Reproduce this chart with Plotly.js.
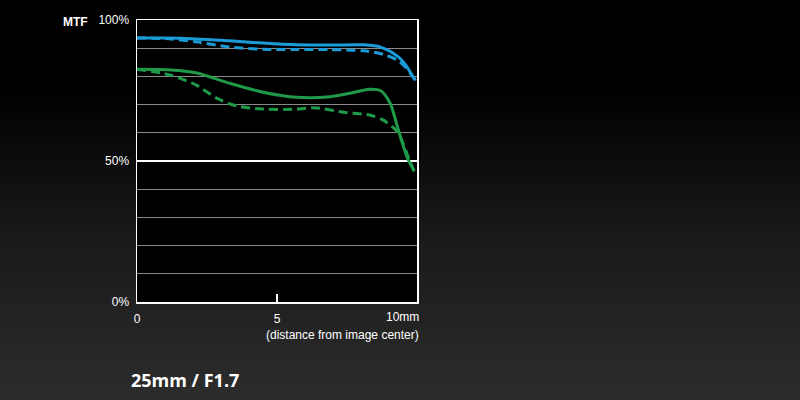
<!DOCTYPE html>
<html><head><meta charset="utf-8">
<script src="https://cdn.plot.ly/plotly-3.0.1.min.js"></script>
<style>
html,body{margin:0;padding:0;width:800px;height:400px;overflow:hidden;
background:linear-gradient(to bottom,#000 0%,#000 22%,#1a1a1a 60%,#2c2c2c 100%);}
#chart{width:800px;height:400px;}
</style></head><body><div id="chart"></div>
<script>
const blueSolidX = [0, 1, 2.1, 3.3, 4.5, 5.7, 6.9, 8.1, 8.7, 9.3, 9.6, 9.86, 9.95];
const blueSolidY = [93.6, 93.6, 93.3, 92.6, 91.8, 91.2, 91.1, 91.2, 90.4, 87.2, 84.0, 79.8, 78.6];
const blueDashX = [0, 1, 2.1, 3.3, 4.5, 5.7, 6.9, 8.1, 8.8, 9.3, 9.6, 9.86, 9.95];
const blueDashY = [93.6, 93.4, 92.3, 90.4, 89.6, 89.5, 89.5, 89.1, 87.8, 85.8, 83.2, 79.8, 78.6];
const greenSolidX = [0, 1.2, 2.1, 3.3, 4.5, 5.7, 6.9, 7.6, 8.3, 8.7, 9.04, 9.3, 9.64, 9.9];
const greenSolidY = [82.5, 82.3, 81.3, 77.6, 74.4, 72.6, 72.8, 74.0, 75.4, 74.9, 70.5, 62.2, 51.5, 46.4];
const greenDashX = [0, 1.18, 2.1, 2.86, 3.57, 4.5, 5.7, 6.3, 7.5, 8.3, 8.8, 9.3, 9.5, 9.7, 9.9];
const greenDashY = [82.5, 80.5, 77.0, 72.2, 69.5, 68.4, 68.4, 68.9, 67.1, 66.3, 64.5, 60.4, 56.3, 51.0, 46.4];
const yTickVals = [0, 50, 100];
const yTickText = ['0%', '50%', '100%'];
const xTickVals = [0, 5, 10];
const xTickText = ['0', '5', ''];

const blue = '#1b9bd7', green = '#1f9a48';
const mk = (x, y, c, dash) => ({x, y, type:'scatter', mode:'lines',
  line:{color:c, width:3, shape:'spline', smoothing:0.8, dash: dash ? '9px,5px' : 'solid'},
  hoverinfo:'skip', showlegend:false});
const data = [
  mk(greenDashX, greenDashY, green, true),
  mk(greenSolidX, greenSolidY, green, false),
  mk(blueDashX, blueDashY, blue, true),
  mk(blueSolidX, blueSolidY, blue, false)
];
const font = {family:'"Liberation Sans", Arial, sans-serif', color:'#ffffff', size:12};
const layout = {
  width:800, height:400,
  margin:{l:137, r:383, t:20, b:98},
  paper_bgcolor:'rgba(0,0,0,0)', plot_bgcolor:'#000000',
  font:font,
  xaxis:{range:[0,10], tickvals:xTickVals, ticktext:xTickText, showgrid:false, zeroline:false,
    showline:true, mirror:true, linecolor:'#ffffff', linewidth:1.5,
    ticks:'inside', ticklen:8, tickcolor:'#ffffff', tickwidth:1.2, ticklabelstandoff:5, fixedrange:true},
  yaxis:{range:[0,100], tickvals:yTickVals, ticktext:yTickText, showgrid:true, gridcolor:'#ffffff', gridwidth:1.5,
    zeroline:false, showline:true, mirror:true, linecolor:'#ffffff', linewidth:1.5, ticks:'',
    ticklabelstandoff:4,
    minor:{dtick:10, showgrid:true, gridcolor:'#8a8a8a', gridwidth:1}, fixedrange:true},
  annotations:[
    {text:'<b>MTF</b>', xref:'paper', yref:'paper', x:-0.168, y:1, yshift:-2, xanchor:'right', yanchor:'middle', showarrow:false, font:{...font, size:12}},
    {text:'10mm', xref:'paper', yref:'paper', x:1.014, y:0, yshift:-15, xanchor:'right', yanchor:'middle', showarrow:false, font:{...font, size:12}},
    {text:'(distance from image center)', xref:'paper', yref:'paper', x:1.014, y:0, yshift:-33, xanchor:'right', yanchor:'middle', showarrow:false, font:{...font, size:12}},
    {text:'<b>25mm / F1.7</b>', xref:'paper', yref:'paper', x:-0.03, y:0, yshift:-78, xanchor:'left', yanchor:'middle', showarrow:false,
      font:{family:'"Open Sans", "Liberation Sans", sans-serif', color:'#ffffff', size:18}}
  ]
};
Plotly.newPlot('chart', data, layout, {displayModeBar:false, staticPlot:true});
</script></body></html>
